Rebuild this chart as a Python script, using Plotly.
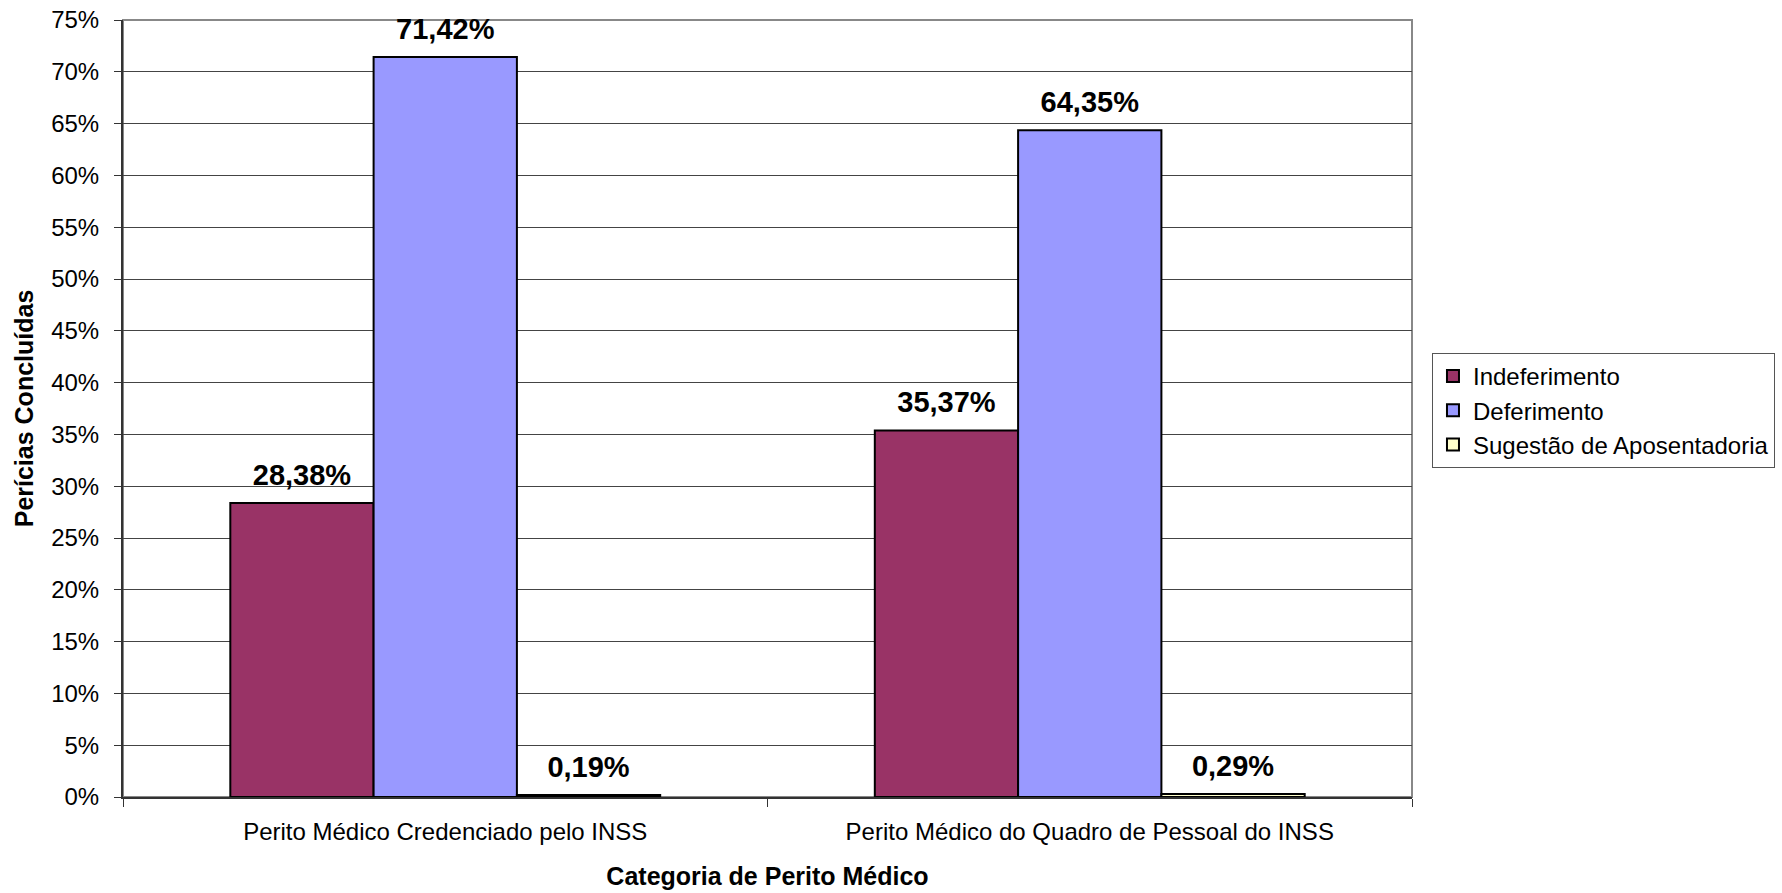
import plotly.graph_objects as go

categories = ["Perito Médico Credenciado pelo INSS", "Perito Médico do Quadro de Pessoal do INSS"]
series_names = ["Indeferimento", "Deferimento", "Sugestão de Aposentadoria"]
indeferimento = [28.38, 35.37]
deferimento = [71.42, 64.35]
sugestao = [0.19, 0.29]
tick_values = [0, 5, 10, 15, 20, 25, 30, 35, 40, 45, 50, 55, 60, 65, 70, 75]
tick_labels = ["0%", "5%", "10%", "15%", "20%", "25%", "30%", "35%", "40%", "45%", "50%", "55%", "60%", "65%", "70%", "75%"]
colors = ["#993366", "#9999FF", "#FFFFCC"]

FONT = "Liberation Sans, Arial, sans-serif"

def fmt(v):
    return f"{v:.2f}".replace(".", ",") + "%"

fig = go.Figure()
series = [indeferimento, deferimento, sugestao]
for name, vals, col in zip(series_names, series, colors):
    fig.add_bar(x=categories, y=vals, name=name, offsetgroup=name,
                marker=dict(color=col, line=dict(color="black", width=2)),
                hoverinfo="skip")
for name, vals in zip(series_names, series):
    fig.add_scatter(x=categories, y=vals, mode="markers+text", offsetgroup=name,
                    text=["<b>" + fmt(v) + "</b>" for v in vals],
                    textposition="top center",
                    textfont=dict(family=FONT, size=29, color="black"),
                    marker=dict(size=16, color="rgba(0,0,0,0)", line=dict(width=0)),
                    showlegend=False, cliponaxis=False, hoverinfo="skip")

fig.update_layout(
    width=1782, height=893,
    margin=dict(l=123, r=370, t=20, b=96, autoexpand=False),
    paper_bgcolor="white", plot_bgcolor="white",
    barmode="group", bargap=0.333, bargroupgap=0,
    scattermode="group", scattergap=0.333,
    font=dict(family=FONT, size=24, color="black"),
    legend=dict(x=1.0155, y=0.5714, xanchor="left", yanchor="top",
                bordercolor="#555555", borderwidth=1, bgcolor="white",
                font=dict(family=FONT, size=24, color="black"),
                itemsizing="constant"),
    shapes=[dict(type="rect", xref="paper", yref="paper", x0=0, x1=1, y0=0, y1=1,
                 line=dict(color="#888888", width=2), layer="below")],
)
fig.update_xaxes(
    automargin=False,
    showline=True, linecolor="#333333", linewidth=2,
    ticks="outside", tickson="boundaries", ticklen=8, tickcolor="#333333",
    ticklabelstandoff=12, ticklabeloverflow="allow",
    tickfont=dict(family=FONT, size=24, color="black"),
    title=dict(text="<b>Categoria de Perito Médico</b>", standoff=24,
               font=dict(family=FONT, size=25, color="black")),
    showgrid=False, zeroline=False,
)
fig.update_yaxes(
    automargin=False,
    range=[0, 75], tickvals=tick_values, ticktext=tick_labels,
    showline=True, linecolor="#333333", linewidth=2,
    ticks="outside", ticklen=7, tickcolor="#333333", ticklabelstandoff=10,
    ticklabeloverflow="allow",
    tickfont=dict(family=FONT, size=24, color="black"),
    showgrid=True, gridcolor="#444444", gridwidth=1, zeroline=False,
    title=dict(text="<b>Perícias Concluídas</b>", standoff=10,
               font=dict(family=FONT, size=25, color="black")),
)
fig.write_html("out.html", config={"displayModeBar": False},
               post_script="document.body.style.margin='0px';")
